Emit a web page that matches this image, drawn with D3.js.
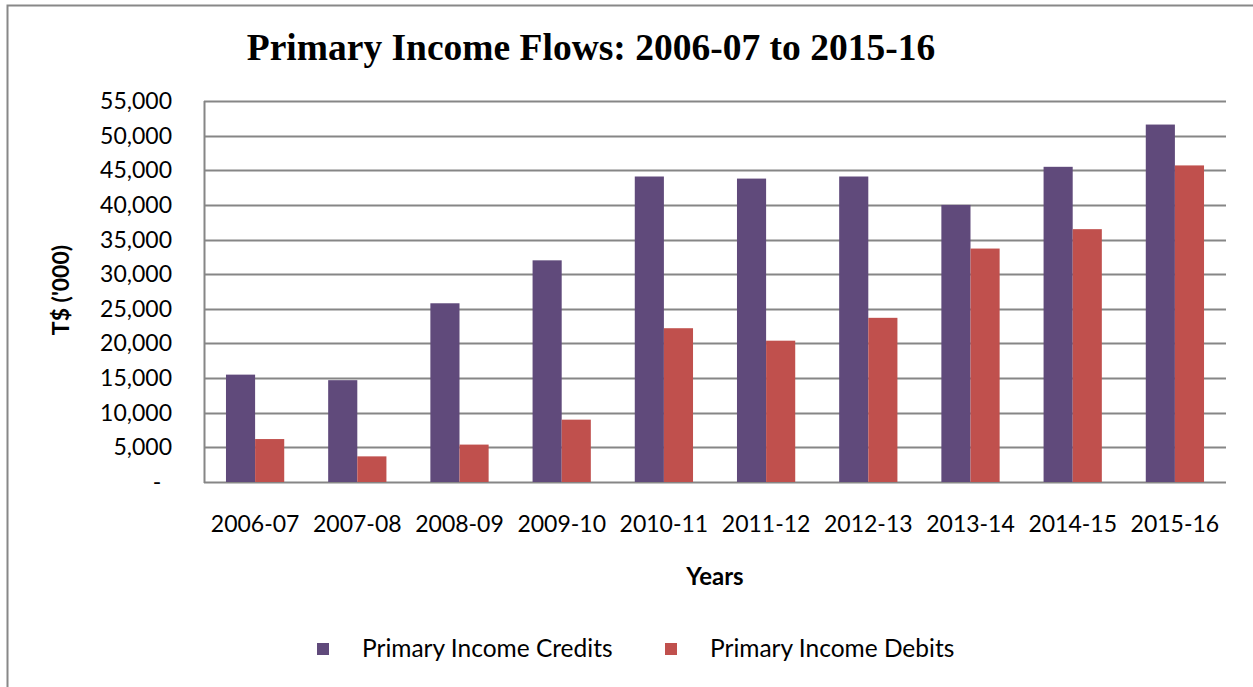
<!DOCTYPE html>
<html>
<head>
<meta charset="utf-8">
<script src="https://cdn.jsdelivr.net/npm/d3@7"></script>
<style>
  body { margin: 0; background: #fff; }
  text { font-family: Lato, "Open Sans", sans-serif; fill: #000; }
</style>
</head>
<body>
<div id="chart"></div>
<script>
const years = ["2006-07", "2007-08", "2008-09", "2009-10", "2010-11",
               "2011-12", "2012-13", "2013-14", "2014-15", "2015-16"];
const credits = [15500, 14700, 25800, 32000, 44100, 43800, 44100, 40000, 45500, 51600];
const debits  = [6200, 3700, 5400, 9000, 22200, 20400, 23700, 33700, 36500, 45700];
const seriesNames = ["Primary Income Credits", "Primary Income Debits"];
const yTicks = [0, 5000, 10000, 15000, 20000, 25000, 30000, 35000, 40000, 45000, 50000, 55000];

const width = 1253, height = 687;
const colors = ["#604a7b", "#c0504d"];
const margin = { top: 101, right: 27, bottom: 205, left: 204 };
const fs = 23;

const svg = d3.select("#chart").append("svg")
    .attr("width", width)
    .attr("height", height);

// outer frame (only left and top visible)
svg.append("path")
    .attr("d", `M7.5,${height} V5.5 H${width}`)
    .attr("fill", "none")
    .attr("stroke", "#888")
    .attr("stroke-width", 2);

const x = d3.scaleBand()
    .domain(years)
    .range([margin.left, width - margin.right])
    .paddingInner(0.43)
    .paddingOuter(0.215);

const x1 = d3.scaleBand()
    .domain(seriesNames)
    .range([0, x.bandwidth()]);

const y = d3.scaleLinear()
    .domain([0, 55000])
    .range([height - margin.bottom, margin.top]);

// gridlines
svg.append("g")
    .selectAll("line")
    .data(yTicks)
    .join("line")
    .attr("x1", margin.left)
    .attr("x2", width - margin.right)
    .attr("y1", d => Math.round(y(d)) + 0.5)
    .attr("y2", d => Math.round(y(d)) + 0.5)
    .attr("stroke", "#868686")
    .attr("stroke-width", 2);

// left axis line
svg.append("line")
    .attr("x1", margin.left + 0.5).attr("x2", margin.left + 0.5)
    .attr("y1", y(55000)).attr("y2", y(0) + 1)
    .attr("stroke", "#868686")
    .attr("stroke-width", 2);

// bars
const groups = svg.append("g")
    .selectAll("g")
    .data(years.map((yr, i) => ({ year: yr, values: [credits[i], debits[i]] })))
    .join("g")
    .attr("transform", d => `translate(${x(d.year)},0)`);

groups.selectAll("rect")
    .data(d => d.values.map((v, k) => ({ name: seriesNames[k], value: v, k: k })))
    .join("rect")
    .attr("x", d => x1(d.name))
    .attr("width", x1.bandwidth())
    .attr("y", d => y(d.value))
    .attr("height", d => y(0) - y(d.value))
    .attr("fill", d => colors[d.k]);

// y tick labels
svg.append("g")
    .selectAll("text")
    .data(yTicks)
    .join("text")
    .attr("x", d => d === 0 ? 157 : 172)
    .attr("y", d => y(d) + 8)
    .attr("text-anchor", d => d === 0 ? "middle" : "end")
    .attr("font-size", fs)
    .text(d => d === 0 ? "-" : d3.format(",")(d));

// x tick labels
svg.append("g")
    .selectAll("text")
    .data(years)
    .join("text")
    .attr("x", d => x(d) + x.bandwidth() / 2)
    .attr("y", 532)
    .attr("text-anchor", "middle")
    .attr("font-size", fs)
    .text(d => d);

// axis titles
svg.append("text")
    .attr("x", 715)
    .attr("y", 585)
    .attr("text-anchor", "middle")
    .attr("font-size", 24)
    .attr("font-weight", "bold")
    .text("Years");

svg.append("text")
    .attr("transform", "translate(69,290) rotate(-90)")
    .attr("text-anchor", "middle")
    .attr("font-size", fs)
    .attr("font-weight", "bold")
    .text("T$ ('000)");

// title
svg.append("text")
    .attr("x", 591)
    .attr("y", 60)
    .attr("text-anchor", "middle")
    .attr("font-size", 37.5)
    .attr("font-weight", "bold")
    .style("font-family", "'Liberation Serif', 'DejaVu Serif', serif")
    .text("Primary Income Flows: 2006-07 to 2015-16");

// legend
const legendX = [317, 665];
const legend = svg.append("g")
    .selectAll("g")
    .data(seriesNames)
    .join("g")
    .attr("transform", (d, i) => `translate(${legendX[i]},643)`);

legend.append("rect")
    .attr("width", 12)
    .attr("height", 12)
    .attr("fill", (d, i) => colors[i]);

legend.append("text")
    .attr("x", 45)
    .attr("y", 14)
    .attr("font-size", 24.5)
    .text(d => d);
</script>
</body>
</html>
